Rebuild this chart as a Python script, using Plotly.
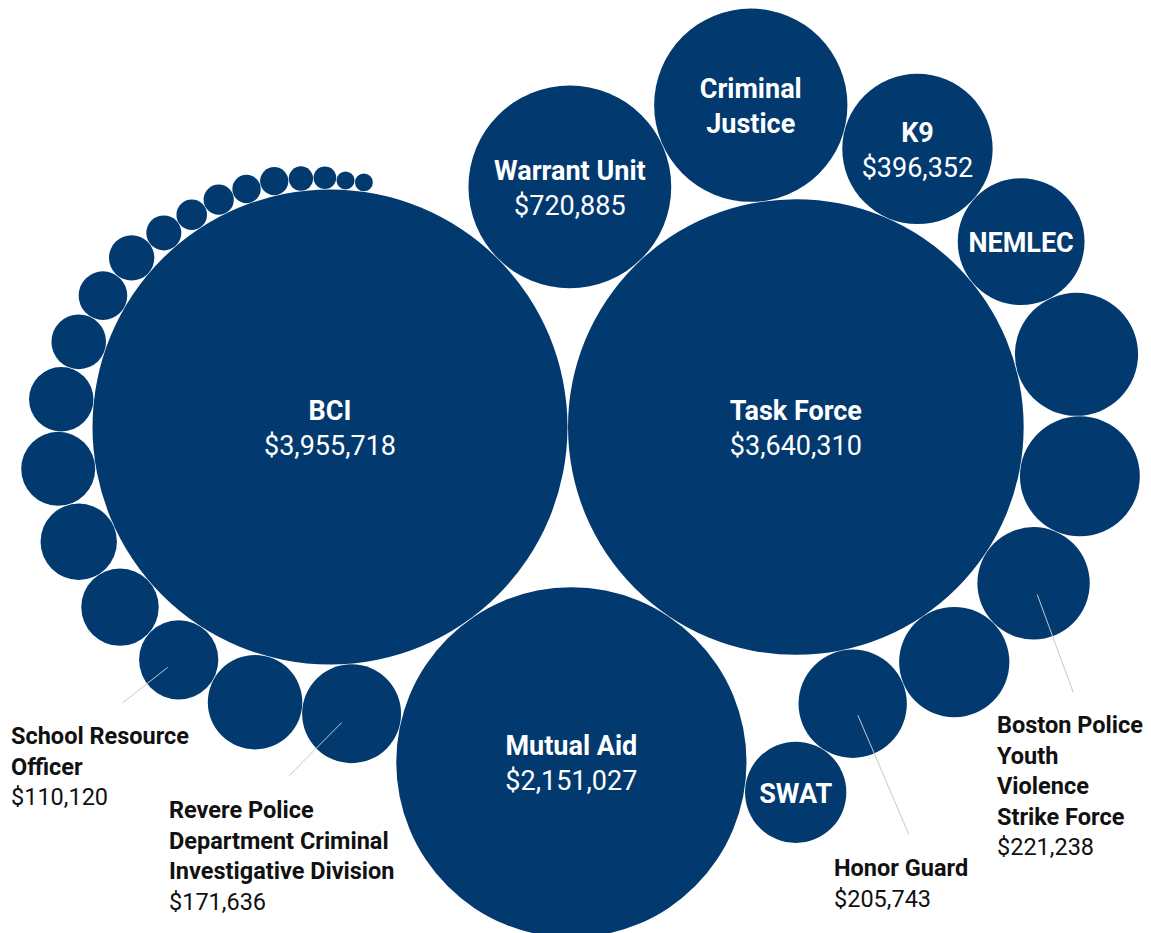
import math
import plotly.graph_objects as go

# ---------------- data ----------------
categories = [
    "BCI", "Task Force", "Mutual Aid", "Warrant Unit", "Criminal Justice", "K9", "NEMLEC",
    "", "", "Boston Police Youth Violence Strike Force", "", "Honor Guard", "SWAT",
    "Revere Police Department Criminal Investigative Division", "", "School Resource Officer",
    "", "", "", "", "", "", "", "", "", "", "", "", "", "", "", "",
]
values = [
    3955718, 3640310, 2151027, 720885, 655000, 396352, 282000,
    266000, 252000, 221238, 213000, 205743, 180000,
    171636, 156500, 110120,
    105000, 102300, 96000, 72700, 52300, 41400, 36100, 21500,
    16400, 16000, 14100, 14000, 10400, 9000, 5700, 5600,
]

# how each bubble is labelled
inside_name_value = ["BCI", "Task Force", "Mutual Aid", "Warrant Unit", "K9"]
inside_name_only = {"Criminal Justice": "Criminal<br>Justice", "NEMLEC": "NEMLEC", "SWAT": "SWAT"}
outside_labels = {
    "School Resource Officer": "School Resource<br>Officer",
    "Revere Police Department Criminal Investigative Division":
        "Revere Police<br>Department Criminal<br>Investigative Division",
    "Honor Guard": "Honor Guard",
    "Boston Police Youth Violence Strike Force": "Boston Police<br>Youth<br>Violence<br>Strike Force",
}

# ---------------- layout parameters (not data) ----------------
W, H = 1151, 933
BCI_CENTER_PX = (330, 427)       # where the largest bubble sits on the page
MAX_RADIUS_PX = 237.5            # radius of the largest bubble
GAP = 0.5
INNER_TEXT_DROP = 3.5            # px the inside labels sit below the bubble centre
# packing: each bubble touches two earlier bubbles (front-chain packing)
pack_parents = [None, None, (1, 0), (0, 1), (3, 1), (4, 1), (5, 1), (6, 1), (7, 1),
                (8, 1), (9, 1), (10, 1), (11, 2), (2, 0), (13, 0)]
pack_parents += [(i - 1, 0) for i in range(15, len(values))]

# label placement relative to bubble centre (px, y up): label top-left, leader start, leader end
outside_offsets = {
    "School Resource Officer": ((-170, -60.5), (-11, -7.6), (-56, -43)),
    "Revere Police Department Criminal Investigative Division": ((-184.5, -80), (-10, -9), (-62.7, -62.3)),
    "Honor Guard": ((-21, -148), (5.2, -11.5), (56.2, -130.8)),
    "Boston Police Youth Violence Strike Force": ((-38.5, -125.5), (3.7, -11.4), (39.7, -109.1)),
}

NAVY = "#023A70"
FONT = "Roboto"

# ---------------- packing ----------------
K = MAX_RADIUS_PX / math.sqrt(max(values))
radii = [K * math.sqrt(v) for v in values]


def tangent_circle(c1, c2, r, gap):
    x1, y1, r1 = c1
    x2, y2, r2 = c2
    d1, d2 = r1 + r + gap, r2 + r + gap
    dx, dy = x2 - x1, y2 - y1
    d = math.hypot(dx, dy)
    a = (d1 * d1 - d2 * d2 + d * d) / (2 * d)
    h = math.sqrt(max(d1 * d1 - a * a, 0.0))
    px, py = x1 + a * dx / d, y1 + a * dy / d
    return (px - h * dy / d, py + h * dx / d, r)


circles = []
for i, r in enumerate(radii):
    if i == 0:
        circles.append((0.0, 0.0, r))
    elif i == 1:
        circles.append((radii[0] + r + GAP, 0.0, r))
    else:
        p1, p2 = pack_parents[i]
        circles.append(tangent_circle(circles[p1], circles[p2], r, GAP))

xs = [c[0] for c in circles]
ys = [c[1] for c in circles]

texts = []
for name, v in zip(categories, values):
    if name in inside_name_value:
        texts.append(f"<b>{name}</b><br>${v:,.0f}")
    elif name in inside_name_only:
        texts.append(f"<b>{inside_name_only[name]}</b>")
    else:
        texts.append("")

fig = go.Figure()
fig.add_trace(go.Scatter(
    x=xs, y=ys, mode="markers",
    marker=dict(size=values, sizemode="area", sizeref=1 / (2 * K * K),
                color=NAVY, line=dict(width=0), opacity=1),
    hovertext=[f"{n} ${v:,.0f}" for n, v in zip(categories, values)],
    hoverinfo="text", cliponaxis=False,
))
fig.add_trace(go.Scatter(
    x=xs, y=[y - INNER_TEXT_DROP for y in ys], mode="text",
    text=texts, textposition="middle center",
    textfont=dict(family=FONT, size=27, color="white"),
    hoverinfo="skip", cliponaxis=False,
))

# leader lines + outside labels
lx, ly = [], []
annotations = []
for name, v, (cx, cy, r) in zip(categories, values, circles):
    if name in outside_labels:
        (tx, ty), (sx, sy), (ex, ey) = outside_offsets[name]
        lx += [cx + sx, cx + ex, None]
        ly += [cy + sy, cy + ey, None]
        annotations.append(dict(
            x=cx + tx, y=cy + ty, xref="x", yref="y", xanchor="left", yanchor="top",
            align="left", showarrow=False,
            text=f"<b>{outside_labels[name]}</b><br>${v:,.0f}",
            font=dict(family=FONT, size=23.5, color="#111111"),
        ))
fig.add_trace(go.Scatter(x=lx, y=ly, mode="lines",
                         line=dict(color="#c8c8c8", width=1), hoverinfo="skip"))

x0, y0 = BCI_CENTER_PX
fig.update_layout(
    width=W, height=H, autosize=False,
    margin=dict(l=0, r=0, t=0, b=0, pad=0),
    paper_bgcolor="white", plot_bgcolor="white",
    showlegend=False,
    xaxis=dict(range=[-x0, W - x0], visible=False, fixedrange=True),
    yaxis=dict(range=[-(H - y0), y0], visible=False, fixedrange=True),
    annotations=annotations,
)

fig.write_html("out.html", config={"displayModeBar": False},
               post_script="document.body.style.margin='0';document.body.style.overflow='hidden';")
